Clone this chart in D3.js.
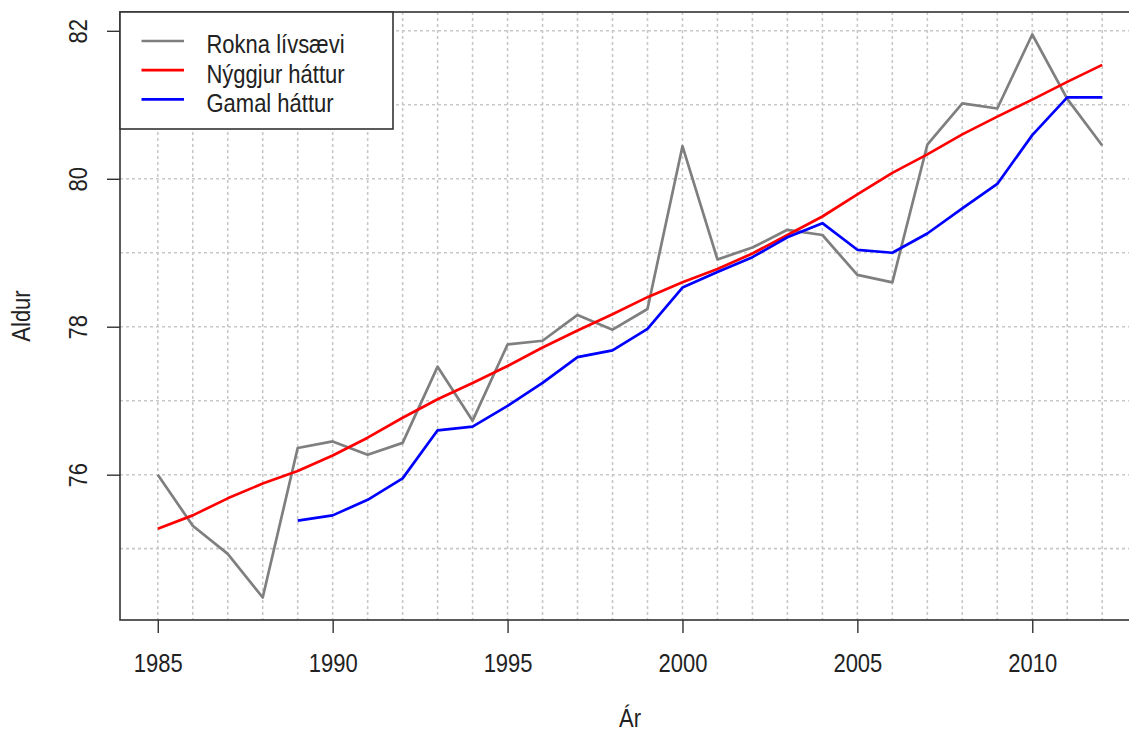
<!DOCTYPE html>
<html>
<head>
<meta charset="utf-8">
<script src="https://cdn.jsdelivr.net/npm/d3@7"></script>
<style>
  html, body { margin: 0; padding: 0; background: #fff; }
  svg { display: block; font-family: "Liberation Sans", Arial, sans-serif; }
</style>
</head>
<body>
<svg id="chart" width="1129" height="731"></svg>
<script>
const years = [1985,1986,1987,1988,1989,1990,1991,1992,1993,1994,1995,1996,1997,1998,1999,2000,2001,2002,2003,2004,2005,2006,2007,2008,2009,2010,2011,2012];
const rokna = [76.00,75.31,74.93,74.34,76.36,76.45,76.27,76.43,77.46,76.73,77.76,77.81,78.16,77.96,78.24,80.44,78.91,79.07,79.31,79.24,78.70,78.60,80.46,81.02,80.95,81.95,81.08,80.45];
const nyggjur = [75.27,75.45,75.68,75.88,76.05,76.26,76.50,76.77,77.02,77.24,77.47,77.72,77.95,78.17,78.40,78.60,78.78,78.99,79.24,79.49,79.79,80.08,80.33,80.60,80.84,81.07,81.31,81.54];
const gamal = [null,null,null,null,75.38,75.45,75.66,75.95,76.60,76.65,76.93,77.24,77.59,77.68,77.97,78.53,78.74,78.94,79.21,79.40,79.04,79.00,79.26,79.60,79.93,80.59,81.10,81.10];
const xTicks = [1985,1990,1995,2000,2005,2010];
const yTicks = [76,78,80,82];
const seriesNames = ["Rokna lívsævi","Nýggjur háttur","Gamal háttur"];
const seriesColors = ["#7f7f7f","#ff0000","#0000ff"];
const xLabel = "Ár";
const yLabel = "Aldur";

(function () {
const svg = d3.select("#chart");
const pL = 120, pR = 1140, pT = 12, pB = 620;
const FS = 22, STRETCH = "scale(1,1.15)", TXT = "#222";

const xMin = d3.min(years), xMax = d3.max(years);
const xPad = (xMax - xMin) * 0.04;
const x = d3.scaleLinear().domain([xMin - xPad, xMax + xPad]).range([pL, pR]);

const allY = rokna.concat(nyggjur, gamal.filter(v => v != null));
const yMin = d3.min(allY), yMax = d3.max(allY);
const yPad = (yMax - yMin) * 0.04;
const y = d3.scaleLinear().domain([yMin - yPad, yMax + yPad]).range([pB, pT]);

const plot = svg.append("g");
svg.append("clipPath").attr("id", "clip")
  .append("rect").attr("x", pL).attr("y", pT).attr("width", pR - pL).attr("height", pB - pT);

// grid
const gridColor = "#c8c8c8";
const hGrid = d3.range(Math.ceil(yMin - yPad), Math.floor(yMax + yPad) + 1);
plot.append("g").selectAll("line").data(years).join("line")
  .attr("x1", d => x(d)).attr("x2", d => x(d))
  .attr("y1", pT).attr("y2", pB)
  .attr("stroke", gridColor).attr("stroke-width", 1.6).attr("stroke-dasharray", "3,3");
plot.append("g").selectAll("line").data(hGrid).join("line")
  .attr("x1", pL).attr("x2", pR)
  .attr("y1", d => y(d)).attr("y2", d => y(d))
  .attr("stroke", gridColor).attr("stroke-width", 1.6).attr("stroke-dasharray", "3,3");

// lines
const lineGen = d3.line()
  .defined(d => d[1] != null)
  .x(d => x(d[0])).y(d => y(d[1]));
const series = [rokna, nyggjur, gamal];
const lines = plot.append("g").attr("clip-path", "url(#clip)");
series.forEach((s, i) => {
  lines.append("path")
    .datum(years.map((yr, j) => [yr, s[j]]))
    .attr("d", lineGen)
    .attr("fill", "none")
    .attr("stroke", seriesColors[i])
    .attr("stroke-width", 2.7)
    .attr("stroke-linejoin", "round");
});

// box
svg.append("rect").attr("x", pL).attr("y", pT)
  .attr("width", pR - pL).attr("height", pB - pT)
  .attr("fill", "none").attr("stroke", "#333").attr("stroke-width", 1.6);

// x axis
const xAxis = svg.append("g").attr("transform", `translate(0,${pB})`)
  .call(d3.axisBottom(x).tickValues(xTicks).tickFormat(d3.format("d")).tickSize(13));
xAxis.select(".domain").remove();
xAxis.selectAll(".tick line").attr("stroke", "#333").attr("stroke-width", 1.4);
xAxis.selectAll(".tick text")
  .attr("font-size", FS).attr("fill", TXT)
  .attr("font-family", "Liberation Sans, Arial, sans-serif")
  .attr("y", 0).attr("dy", null)
  .attr("text-anchor", "middle")
  .attr("transform", `translate(0,52) ${STRETCH}`);

// y axis
const yAxis = svg.append("g").attr("transform", `translate(${pL},0)`)
  .call(d3.axisLeft(y).tickValues(yTicks).tickSize(13).tickFormat(d3.format("d")));
yAxis.select(".domain").remove();
yAxis.selectAll(".tick line").attr("stroke", "#333").attr("stroke-width", 1.4);
yAxis.selectAll(".tick text")
  .attr("font-size", FS).attr("fill", TXT)
  .attr("font-family", "Liberation Sans, Arial, sans-serif")
  .attr("x", 0).attr("y", 0).attr("dy", null)
  .attr("text-anchor", "middle")
  .attr("transform", `translate(-33,0) rotate(-90) ${STRETCH}`);

// axis titles
svg.append("text")
  .attr("transform", `translate(${(pL + pR) / 2},727) ${STRETCH}`)
  .attr("text-anchor", "middle").attr("font-size", FS).attr("fill", TXT).text(xLabel);
svg.append("text")
  .attr("transform", `translate(30,${(pT + pB) / 2}) rotate(-90) ${STRETCH}`)
  .attr("text-anchor", "middle").attr("font-size", FS).attr("fill", TXT).text(yLabel);

// legend
const lg = svg.append("g");
lg.append("rect").attr("x", pL).attr("y", pT).attr("width", 273).attr("height", 117)
  .attr("fill", "#fff").attr("stroke", "#333").attr("stroke-width", 1.6);
seriesNames.forEach((n, i) => {
  const cy = 41 + i * 29.2;
  lg.append("line").attr("x1", 141.5).attr("x2", 184).attr("y1", cy).attr("y2", cy)
    .attr("stroke", seriesColors[i]).attr("stroke-width", 2.7);
  lg.append("text")
    .attr("transform", `translate(206.5,${cy + 12.3}) ${STRETCH}`)
    .attr("font-size", FS).attr("fill", TXT).text(n);
});
})();
</script>
</body>
</html>
